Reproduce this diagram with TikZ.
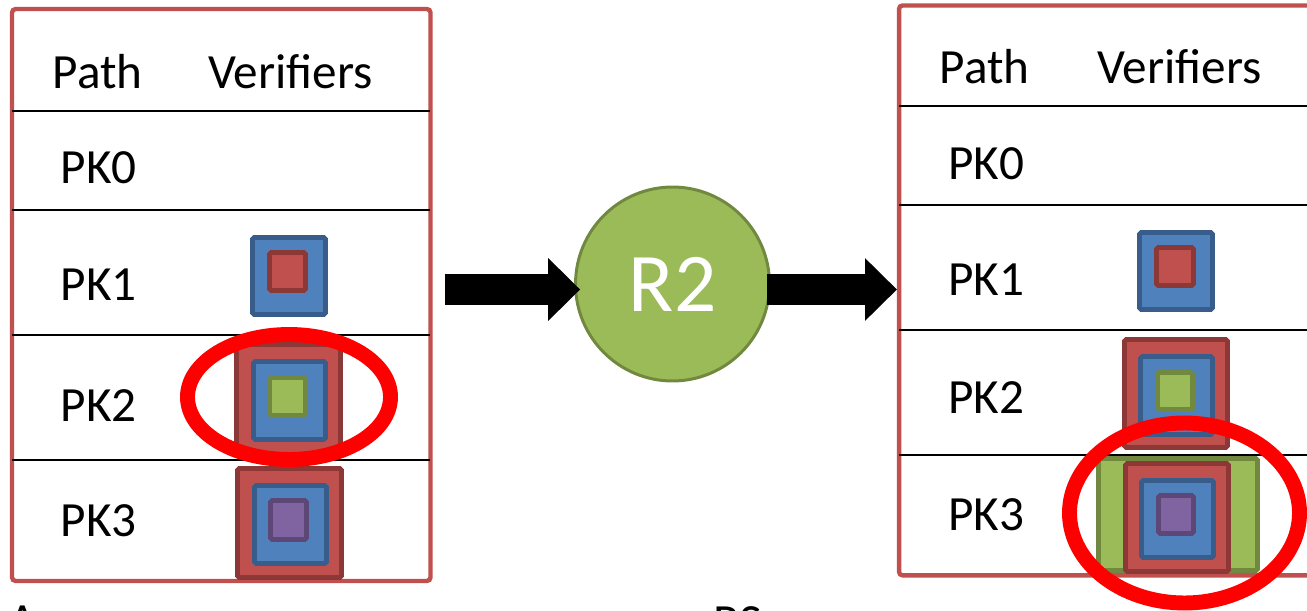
\documentclass[tikz,border=0pt]{standalone}
\usepackage{fontspec}
\setmainfont{Carlito}
\usetikzlibrary{arrows.meta,calc}

\definecolor{tabred}{HTML}{C0504D}
\definecolor{redF}{HTML}{C0504D}
\definecolor{redD}{HTML}{8C3836}
\definecolor{blueF}{HTML}{4F81BD}
\definecolor{blueD}{HTML}{385D8A}
\definecolor{greenF}{HTML}{9BBB59}
\definecolor{greenD}{HTML}{71893F}
\definecolor{purpleF}{HTML}{8064A2}
\definecolor{purpleD}{HTML}{5C4776}

\tikzset{
  tabbox/.style={draw=tabred, line width=2.5pt, rounded corners=2pt, inner sep=0pt},
  rowline/.style={draw=black, line width=1.1pt, shorten <=1.25pt, shorten >=1.25pt},
  cell/.style={anchor=base west, inner sep=0pt, font=\fontsize{28}{34}\selectfont},
  hop/.style={circle, fill=greenF, draw=greenD, line width=1.7pt, minimum size=3.88cm,
    inner sep=0pt, text=white, font=\fontsize{47.5}{57}\selectfont},
  redsq/.style={fill=redF, draw=redD, line width=2.8pt, rounded corners=1pt},
  bluesq/.style={fill=blueF, draw=blueD, line width=2.8pt, rounded corners=1pt},
  greensq/.style={fill=greenF, draw=greenD, line width=2.8pt, rounded corners=1pt},
  purplesq/.style={fill=purpleF, draw=purpleD, line width=2.8pt, rounded corners=1pt},
  hilite/.style={draw=red, line width=8.5pt},
  bigarrow/.style={draw=black, line width=17.6pt,
    -{Triangle[length=18.1pt,width=35.7pt,line width=0pt]}},
}

\begin{document}
\begin{tikzpicture}[x=0.02cm,y=-0.02cm]
  \useasboundingbox (0,0) rectangle (1307,611);

  % path table before the hop
  \node[tabbox, minimum width=8.37cm, minimum height=11.44cm] (lefttab) at (221.25,295) {};
  \draw[rowline] (lefttab.west |- 0,111) -- (lefttab.east |- 0,111);
  \draw[rowline] (lefttab.west |- 0,210) -- (lefttab.east |- 0,210);
  \draw[rowline] (lefttab.west |- 0,335) -- (lefttab.east |- 0,335);
  \draw[rowline] (lefttab.west |- 0,460) -- (lefttab.east |- 0,460);
  \node[cell] (lpath) at (52.5,89) {Path};
  \node[cell] (lver) at (208,89) {Verifiers};
  \node[cell] (lpk0) at (60.5,184) {PK0};
  \node[cell] (lpk1) at (60.5,300) {PK1};
  \node[cell] (lpk2) at (60.5,421) {PK2};
  \node[cell] (lpk3) at (60.5,536) {PK3};

  % verifier boxes, left
  \draw[bluesq] (252.5,237.5) rectangle (325.5,314.5);
  \draw[redsq] (269.5,252.5) rectangle (305.5,290.5);
  \draw[redsq] (236.5,344.5) rectangle (340.5,454.5);
  \draw[bluesq] (253.5,361.5) rectangle (325.5,439.5);
  \draw[greensq] (269.5,377.5) rectangle (305.5,415.5);
  \draw[redsq] (237.5,468.5) rectangle (341.5,577.5);
  \draw[bluesq] (254.5,485.5) rectangle (326.5,563.5);
  \draw[purplesq] (270.5,500.5) rectangle (306.5,539.5);
  \draw[hilite] (289,397) ellipse [x radius=101.5, y radius=62.5];

  % path table after the hop
  \node[tabbox, minimum width=8.62cm, minimum height=11.40cm] (righttab) at (1114.5,290.4) {};
  \draw[rowline] (righttab.west |- 0,106) -- (righttab.east |- 0,106);
  \draw[rowline] (righttab.west |- 0,205) -- (righttab.east |- 0,205);
  \draw[rowline] (righttab.west |- 0,330) -- (righttab.east |- 0,330);
  \draw[rowline] (righttab.west |- 0,455) -- (righttab.east |- 0,455);
  \node[cell] (rpath) at (939.5,84) {Path};
  \node[cell] (rver) at (1097,84) {Verifiers};
  \node[cell] (rpk0) at (948,179) {PK0};
  \node[cell] (rpk1) at (948,295) {PK1};
  \node[cell] (rpk2) at (948,413) {PK2};
  \node[cell] (rpk3) at (948,530) {PK3};

  % verifier boxes, right
  \draw[bluesq] (1139.5,232.5) rectangle (1212.5,309.5);
  \draw[redsq] (1156.5,247.5) rectangle (1193.5,285.5);
  \draw[redsq] (1124.5,339.5) rectangle (1227.5,447.5);
  \draw[bluesq] (1140.5,356.5) rectangle (1212.5,434.5);
  \draw[greensq] (1157.5,372.5) rectangle (1192.5,409.5);
  \draw[greensq] (1098.5,458.5) rectangle (1257.5,570.5);
  \draw[redsq] (1125.5,463.5) rectangle (1228.5,571.5);
  \draw[bluesq] (1141.5,480.5) rectangle (1213.5,557.5);
  \draw[purplesq] (1158.5,495.5) rectangle (1193.5,533.5);
  \draw[hilite] (1184.5,513) ellipse [x radius=115, y radius=90];

  % the hop
  \node[hop] (R2) at (672.5,284) {R2};
  \draw[bigarrow] ($(lefttab.east |- R2.west)+(12,5.5)$) -- ($(R2.west)+(6,5.5)$);
  \draw[bigarrow] ($(R2.east)+(-4,5.5)$) -- ($(righttab.west |- R2.east)+(0,5.5)$);

  % captions below
  \node[cell] (capa) at (8,637) {A};
  \node[cell] (capb) at (713,638) {RS};
\end{tikzpicture}
\end{document}
